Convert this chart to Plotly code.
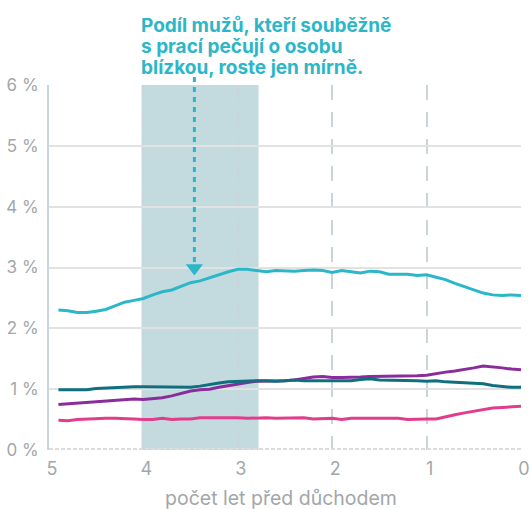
import plotly.graph_objects as go

years = [4.9, 4.8, 4.7, 4.6, 4.5, 4.4, 4.3, 4.2, 4.1, 4.0,
         3.9, 3.8, 3.7, 3.6, 3.5, 3.4, 3.3, 3.2, 3.1, 3.0,
         2.9, 2.8, 2.7, 2.6, 2.5, 2.4, 2.3, 2.2, 2.1, 2.0,
         1.9, 1.8, 1.7, 1.6, 1.5, 1.4, 1.3, 1.2, 1.1, 1.0,
         0.9, 0.8, 0.7, 0.6, 0.5, 0.4, 0.3, 0.2, 0.1, 0.0]

cyan = [2.30, 2.29, 2.26, 2.26, 2.28, 2.31, 2.37, 2.43, 2.46, 2.49,
        2.55, 2.60, 2.63, 2.69, 2.75, 2.78, 2.83, 2.89, 2.93, 2.97,
        2.97, 2.95, 2.93, 2.95, 2.94, 2.94, 2.95, 2.96, 2.95, 2.92,
        2.95, 2.93, 2.91, 2.94, 2.93, 2.89, 2.89, 2.89, 2.87, 2.88,
        2.84, 2.80, 2.74, 2.69, 2.64, 2.58, 2.55, 2.54, 2.55, 2.54]

teal = [0.99, 0.99, 0.98, 0.99, 1.01, 1.02, 1.03, 1.04, 1.04, 1.04,
        1.04, 1.04, 1.04, 1.03, 1.03, 1.05, 1.08, 1.10, 1.12, 1.13,
        1.13, 1.14, 1.14, 1.13, 1.14, 1.15, 1.14, 1.14, 1.13, 1.13,
        1.13, 1.14, 1.16, 1.17, 1.15, 1.15, 1.15, 1.14, 1.14, 1.13,
        1.14, 1.12, 1.11, 1.10, 1.10, 1.09, 1.06, 1.04, 1.03, 1.03]

purple = [0.75, 0.76, 0.77, 0.78, 0.79, 0.80, 0.81, 0.82, 0.84, 0.83,
          0.84, 0.86, 0.89, 0.93, 0.97, 0.99, 1.00, 1.03, 1.06, 1.09,
          1.11, 1.13, 1.13, 1.13, 1.14, 1.15, 1.18, 1.20, 1.21, 1.19,
          1.19, 1.19, 1.20, 1.21, 1.21, 1.21, 1.21, 1.21, 1.22, 1.23,
          1.26, 1.28, 1.30, 1.32, 1.35, 1.38, 1.37, 1.35, 1.33, 1.32]

pink = [0.49, 0.48, 0.50, 0.51, 0.52, 0.52, 0.52, 0.52, 0.51, 0.50,
        0.50, 0.52, 0.50, 0.51, 0.51, 0.53, 0.53, 0.53, 0.54, 0.53,
        0.52, 0.53, 0.53, 0.52, 0.52, 0.53, 0.53, 0.51, 0.52, 0.52,
        0.50, 0.52, 0.52, 0.52, 0.52, 0.52, 0.52, 0.50, 0.51, 0.51,
        0.51, 0.55, 0.58, 0.61, 0.64, 0.67, 0.69, 0.70, 0.71, 0.72]

x_ticks = [5, 4, 3, 2, 1, 0]
x_labels = ["5", "4", "3", "2", "1", "0"]
y_ticks = [0, 1, 2, 3, 4, 5, 6]
y_labels = ["0 %", "1 %", "2 %", "3 %", "4 %", "5 %", "6 %"]

shade_start, shade_end = 4.02, 2.78
arrow_x, arrow_y = 3.46, 2.99
note_lines = ["Podíl mužů, kteří souběžně", "s prací pečují o osobu", "blízkou, roste jen mírně."]

FONT = "Inter"
GRAY = "#a1a7aa"
CYAN = "#2bb7c8"

W, H = 530, 509
L, R, T, B = 49, 9, 85, 59
PH = H - T - B
PW = W - L - R


def py(y_px):
    """pixel row -> paper y"""
    return (H - B - y_px) / PH


def px(x_px):
    return (x_px - L) / PW


fig = go.Figure()
series = [(pink, "#e23d8d"), (purple, "#8a2c9b"), (teal, "#0f6f7e"), (cyan, CYAN)]
for vals, col in series:
    fig.add_trace(go.Scatter(x=years, y=vals, mode="lines",
                             line=dict(color=col, width=3), hoverinfo="skip",
                             showlegend=False))

# arrow head
fig.add_trace(go.Scatter(x=[arrow_x], y=[arrow_y], mode="markers",
                         marker=dict(symbol="triangle-down", size=15, color=CYAN),
                         showlegend=False, hoverinfo="skip", cliponaxis=False))

fig.add_shape(type="rect", xref="x", yref="paper", x0=shade_start, x1=shade_end,
              y0=0, y1=1, fillcolor="#c3dbdf", line_width=0, layer="between")
fig.add_shape(type="line", xref="x", yref="paper", x0=arrow_x, x1=arrow_x,
              y0=py(77), y1=py(262),
              line=dict(color=CYAN, width=3, dash="5px,5px"))
fig.add_shape(type="line", xref="x", yref="y", x0=5, x1=0, y0=0, y1=0,
              line=dict(color="#dcdcdc", width=4, dash="4px,2px"))

for i, line in enumerate(note_lines):
    fig.add_annotation(xref="paper", yref="paper", x=px(139), y=py(25 + i * 21.3),
                       xanchor="left", yanchor="middle", align="left", showarrow=False,
                       text=line,
                       font=dict(family=FONT, size=19, color=CYAN, weight="bold"))

fig.add_annotation(xref="paper", yref="paper", x=px(281), y=py(498),
                   xanchor="center", yanchor="middle", showarrow=False,
                   text="počet let před důchodem",
                   font=dict(family=FONT, size=19.5, color=GRAY))

fig.update_layout(
    width=W, height=H,
    margin=dict(l=L, r=R, t=T, b=B),
    paper_bgcolor="white", plot_bgcolor="white",
    font=dict(family=FONT, color=GRAY, size=17),
    hovermode=False,
    xaxis=dict(range=[5, 0], tickvals=x_ticks, ticktext=x_labels, automargin=False,
               showgrid=True, gridcolor="#c9d5db", gridwidth=2, griddash="15px,12px",
               zeroline=False, showline=False, ticks="", ticklabelshift=-3,
               ticklabelstandoff=6, ticklabeloverflow="allow",
               tickfont=dict(size=18, color=GRAY)),
    yaxis=dict(range=[0, 6], tickvals=y_ticks, ticktext=y_labels, automargin=False,
               showgrid=True, gridcolor="#e2e2e2", gridwidth=2,
               zeroline=False, showline=True, linecolor="#c9d5db", linewidth=2,
               ticks="", ticklabelstandoff=5, ticklabeloverflow="allow",
               tickfont=dict(size=17, color=GRAY)),
)

fig.write_html("out.html", config={"displayModeBar": False},
               post_script="document.body.style.margin='0px';")
